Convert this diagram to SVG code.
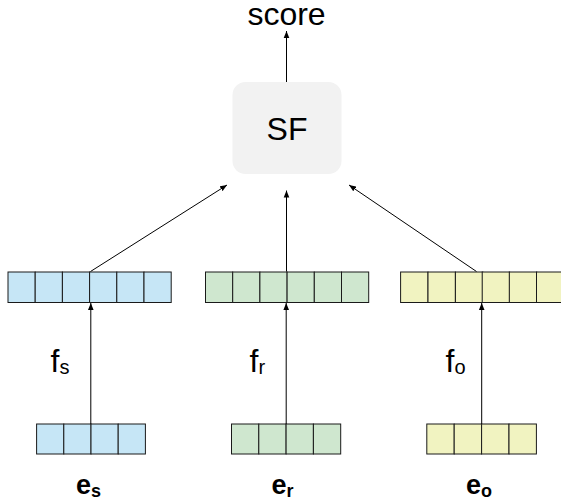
<svg xmlns="http://www.w3.org/2000/svg" width="561" height="501" viewBox="0 0 561 501">
<style>
  text { font-family: "Liberation Sans", Arial, sans-serif; fill: #000; }
  .big { font-size: 32px; }
  .sub { font-size: 20px; }
  .bold { font-size: 27px; font-weight: bold; }
  .bsub { font-size: 18px; font-weight: bold; }
  .cell { stroke: #1a1a1a; stroke-width: 1; }
  .blue { fill: #c6e6f6; }
  .green { fill: #cfe7cf; }
  .yellow { fill: #f1f3c1; }
  .conn { stroke: #000; stroke-width: 1; fill: none; marker-end: url(#arr); }
</style>
<defs>
  <marker id="arr" viewBox="0 0 10 10" refX="10" refY="5" markerWidth="7" markerHeight="7" markerUnits="userSpaceOnUse" orient="auto">
    <path d="M0,1 L10,5 L0,9 Z" fill="#000"/>
  </marker>
</defs>
<rect width="561" height="501" fill="#fff"/>

<g id="score">
  <text class="big" x="286.5" y="25" text-anchor="middle">score</text>
</g>

<g id="SF">
  <rect x="232.5" y="82" width="109" height="92" rx="13" ry="13" fill="#f2f2f2"/>
  <text class="big" x="287" y="139.5" text-anchor="middle">SF</text>
</g>

<g id="vec_fs_top">
  <rect class="cell blue" x="8" y="272" width="27.2" height="30.5"/>
  <rect class="cell blue" x="35.2" y="272" width="27.2" height="30.5"/>
  <rect class="cell blue" x="62.4" y="272" width="27.2" height="30.5"/>
  <rect class="cell blue" x="89.6" y="272" width="27.2" height="30.5"/>
  <rect class="cell blue" x="116.8" y="272" width="27.2" height="30.5"/>
  <rect class="cell blue" x="144" y="272" width="27.2" height="30.5"/>
</g>
<g id="vec_fr_top">
  <rect class="cell green" x="205.5" y="272" width="27.2" height="30.5"/>
  <rect class="cell green" x="232.7" y="272" width="27.2" height="30.5"/>
  <rect class="cell green" x="259.9" y="272" width="27.2" height="30.5"/>
  <rect class="cell green" x="287.1" y="272" width="27.2" height="30.5"/>
  <rect class="cell green" x="314.3" y="272" width="27.2" height="30.5"/>
  <rect class="cell green" x="341.5" y="272" width="27.2" height="30.5"/>
</g>
<g id="vec_fo_top">
  <rect class="cell yellow" x="400.6" y="272" width="27.4" height="30.5"/>
  <rect class="cell yellow" x="428" y="272" width="27.4" height="30.5"/>
  <rect class="cell yellow" x="455.4" y="272" width="27.4" height="30.5"/>
  <rect class="cell yellow" x="482.2" y="272" width="27.4" height="30.5"/>
  <rect class="cell yellow" x="509.3" y="272" width="27.4" height="30.5"/>
  <rect class="cell yellow" x="536.5" y="272" width="27.4" height="30.5"/>
</g>

<g id="vec_es">
  <rect class="cell blue" x="36.6" y="424" width="27.2" height="30"/>
  <rect class="cell blue" x="63.8" y="424" width="27.2" height="30"/>
  <rect class="cell blue" x="91" y="424" width="27.2" height="30"/>
  <rect class="cell blue" x="118.2" y="424" width="27.2" height="30"/>
</g>
<g id="vec_er">
  <rect class="cell green" x="231.5" y="424" width="27.3" height="30"/>
  <rect class="cell green" x="258.8" y="424" width="27.3" height="30"/>
  <rect class="cell green" x="286.1" y="424" width="27.3" height="30"/>
  <rect class="cell green" x="313.4" y="424" width="27.3" height="30"/>
</g>
<g id="vec_eo">
  <rect class="cell yellow" x="426.8" y="424" width="27.4" height="30"/>
  <rect class="cell yellow" x="454.2" y="424" width="27.4" height="30"/>
  <rect class="cell yellow" x="481.6" y="424" width="27.4" height="30"/>
  <rect class="cell yellow" x="509" y="424" width="27.4" height="30"/>
</g>

<g id="connectors">
  <line class="conn" x1="286.5" y1="82" x2="286.5" y2="31"/>
  <line class="conn" x1="90.5" y1="271.5" x2="227" y2="185"/>
  <line class="conn" x1="286.5" y1="271.5" x2="286.5" y2="190.5"/>
  <line class="conn" x1="476.5" y1="271.5" x2="349" y2="185"/>
  <line class="conn" x1="90.8" y1="424" x2="90.8" y2="303"/>
  <line class="conn" x1="286.2" y1="424" x2="286.2" y2="303"/>
  <line class="conn" x1="481.7" y1="424" x2="481.7" y2="303"/>
</g>

<g id="labels">
  <text class="big" x="50.5" y="371.7">f<tspan class="sub" dy="2.6">s</tspan></text>
  <text class="big" x="249.5" y="371.7">f<tspan class="sub" dy="2.6">r</tspan></text>
  <text class="big" x="445.5" y="371.7">f<tspan class="sub" dy="2.6">o</tspan></text>
  <text class="bold" x="76" y="493.5">e<tspan class="bsub" dy="3">s</tspan></text>
  <text class="bold" x="271.5" y="493.5">e<tspan class="bsub" dy="3">r</tspan></text>
  <text class="bold" x="466" y="493.5">e<tspan class="bsub" dy="3">o</tspan></text>
</g>
</svg>
